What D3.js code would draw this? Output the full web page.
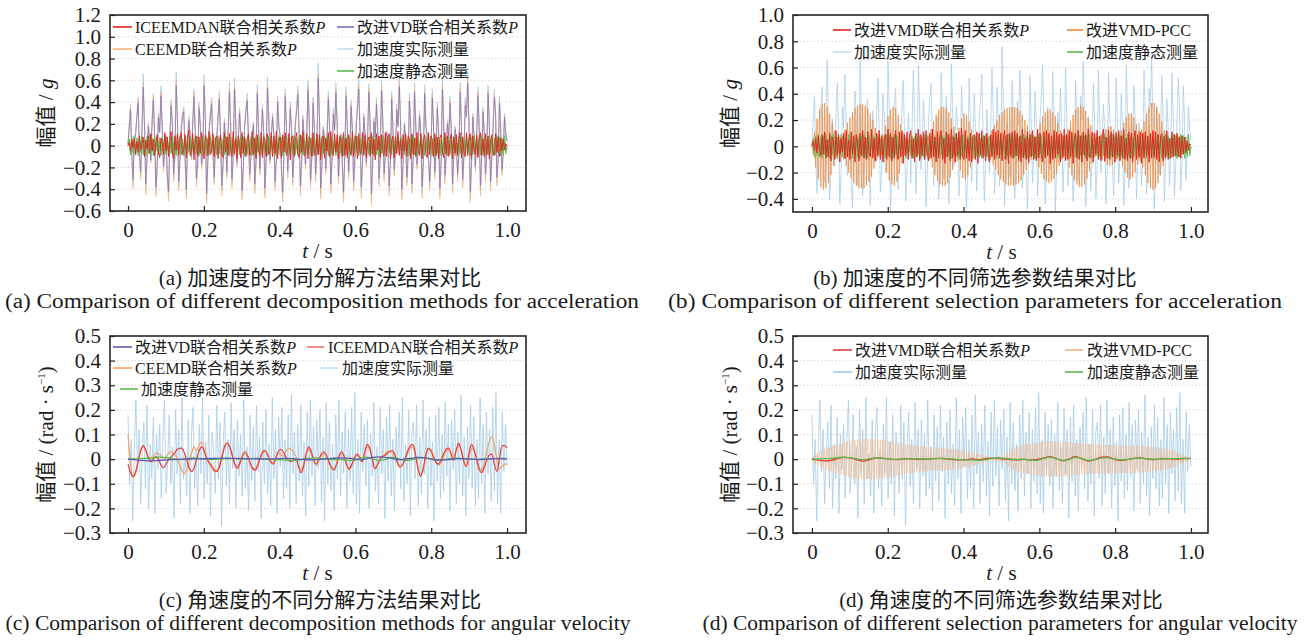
<!DOCTYPE html>
<html>
<head>
<meta charset="utf-8">
<script src="https://cdn.jsdelivr.net/npm/d3@7"></script>
<style>
    body { margin: 0; background: #fff; }
    svg text { font-family: "Liberation Serif", "Times New Roman", "Noto Sans CJK SC", serif; fill: #1a1a1a; }
</style>
</head>
<body>
<svg id="chart"></svg>
<script>
'use strict';

const WIDTH = 1312;
const HEIGHT = 640;

// axis ticks
const T_TICKS = [0, 0.2, 0.4, 0.6, 0.8, 1.0];
const ACC_TICKS_A = [-0.6, -0.4, -0.2, 0, 0.2, 0.4, 0.6, 0.8, 1.0, 1.2];
const ACC_TICKS_B = [-0.4, -0.2, 0, 0.2, 0.4, 0.6, 0.8, 1.0];
const ANG_TICKS = [-0.3, -0.2, -0.1, 0, 0.1, 0.2, 0.3, 0.4, 0.5];

// acceleration, measured (shared by a and b), in 0.01 g
const ACC_MEAS = [
    2, 20, 38, -10, -36, 5, 12, 30, 45, -8,
    -28, 15, 66, 20, -41, -12, 21, 8, -15, 25,
    48, 10, -44, -20, 30, 14, 55, 18, -22, -5,
    10, -30, -47, 8, 42, 22, -30, -10, 68, 25,
    -38, -15, 18, 30, 36, -12, -45, 5, 27, 12,
    -12, 20, 52, 15, -35, -18, 40, 22, -20, -8,
    65, 28, -50, -15, 15, 32, 44, -5, -33, 2,
    8, 28, 50, 10, -42, -18, 25, 6, -28, 15,
    58, 20, -36, -10, 62, 25, -18, 5, 35, 12,
    -46, -20, 20, 35, 48, 8, -30, -10, 12, 22,
    -40, -15, 56, 18, -25, 5, 38, 14, -44, -12,
    63, 30, -15, 8, 30, 12, -38, -14, 46, 20,
    10, -22, -48, -10, 52, 20, -27, 4, 40, 16,
    -34, -8, 22, 36, 55, 10, -42, -15, 28, 6,
    -20, 12, 60, 25, -36, -12, 45, 18, -30, -6,
    76, 30, -45, -18, 18, 6, -24, 8, 50, 20,
    -40, -12, 34, 16, 58, 22, -32, -8, 12, -15,
    -48, -10, 54, 20, -28, -5, 42, 15, -38, -12,
    20, 40, 62, 15, -44, -16, 30, 10, -18, 8,
    57, 22, -50, -18, 26, 8, 44, 16, -35, -10,
    60, 25, -30, -8, 14, 5, -42, -15, 50, 18,
    -26, -6, 38, 20, 64, 24, -46, -18, 22, 6,
    -34, -10, 48, 18, -40, -12, 58, 22, -20, 4,
    32, 12, -44, -15, 56, 20, 10, -12, -38, -8,
    52, 20, -28, -6, 40, 14, -45, -16, 62, 25,
    -32, -10, 24, 8, 46, 18, -40, -12, 18, 5,
    -30, -8, 58, 22, -36, -10, 44, 30, 68, 20,
    -48, -16, 30, 10, -22, 6, 54, 20, -42, -12,
    36, 14, -30, -8, 56, 22, -38, -12, 20, 52,
    30, -34, -12, 46, 18, -26, -6, 30, 12, 5
];

// acceleration, static (shared by a and b), in 0.01 g
const ACC_STATIC = [
    0, 6, -8, 8, -7, 9, -8, 7, -9, 8,
    -6, 9, -8, 5, -9, 8, -7, 9, -8, 7,
    -9, 8, -5, 9, -8, 7, -9, 8, -7, 9,
    -8, 6, -9, 8, -7, 9, -8, 7, -9, 8,
    -7, 9, -8, 6, -9, 8, -7, 9, -6, 8,
    -9, 7, -8, 9, -7, 8, -9, 6, -8, 9,
    -7, 8, -9, 7, -8, 9, -6, 8, -9, 7,
    -8, 9, -7, 8, -9, 6, -8, 9, -7, 8,
    -9, 7, -8, 9, -6, 8, -9, 7, -8, 9,
    -7, 8, -9, 6, -8, 9, -7, 8, -9, 7,
    -8, 9, -6, 8, -9, 7, -8, 9, -7, 6,
    -9, 8, -7, 9, -8, 6, -9, 8, -7, 9,
    -8, 7, -9, 8, -6, 9, -8, 7, -9, 8,
    -7, 9, -8, 6, -9, 8, -7, 9, -8, 7,
    -9, 8, -7, 9, -8, 7, -9, 8, -6, 9,
    -8, 7, -9, 8, -7, 9, -6, 8, -9, 7,
    -8, 9, -7, 6, -9, 8, -8, 9, -7, 8,
    -9, 6, -8, 9, -7, 8, -9, 7, -8, 9,
    -6, 8, -9, 7, -8, 9, -7, 8, -9, 6,
    -8, 9, -7, 8, -9, 7, -8, 6, -9, 8,
    -7, 9, -8, 7, -9, 8, -6, 9, -8, 7,
    -9, 8, -7, 9, -6, 8, -9, 7, -8, 9,
    -8, 6, -9, 8, -7, 9, -8, 7, -9, 8,
    -7, 9, -8, 6, -9, 8, -7, 9, -8, 7,
    -9, 7, -8, 9, -7, 8, -9, 6, -8, 9,
    -7, 8, -9, 7, -8, 9, -6, 8, -9, 7,
    -8, 9, -7, 8, -9, 6, -8, 9, -7, 8,
    -9, 7, -8, 9, -6, 8, -9, 7, -8, 9,
    -7, 8, -9, 6, -8, 9, -7, 8, -9, 7,
    -8, 9, -6, 8, -9, 7, -8, 9, -7, 0
];

// (a) improved VD + P, in 0.01 g
const A_VD = [
    2, 17, 33, -8, -31, 4, 10, 26, 39, -7,
    -24, 13, 54, 17, -35, -10, 18, 7, -13, 21,
    42, 8, -38, -17, 26, 12, 46, 15, -19, -4,
    9, -26, -42, 7, 37, 19, -26, -8, 55, 21,
    -33, -13, 15, 26, 31, -10, -40, 4, 23, 10,
    -10, 17, 45, 13, -30, -15, 34, 19, -17, -7,
    55, 24, -44, -13, 13, 27, 38, -4, -29, 2,
    7, 24, 43, 9, -37, -15, 21, 5, -24, 13,
    49, 17, -31, -8, 52, 21, -15, 4, 30, 10,
    -41, -17, 17, 30, 41, 7, -26, -8, 10, 19,
    -35, -13, 48, 15, -21, 4, 33, 12, -39, -10,
    53, 26, -13, 7, 26, 10, -33, -12, 40, 17,
    9, -19, -43, -8, 45, 17, -23, 3, 34, 14,
    -29, -7, 19, 31, 47, 9, -37, -13, 24, 5,
    -17, 10, 51, 21, -31, -10, 39, 15, -26, -5,
    62, 26, -39, -15, 15, 5, -21, 7, 43, 17,
    -35, -10, 29, 14, 49, 19, -28, -7, 10, -13,
    -43, -8, 46, 17, -24, -4, 36, 13, -33, -10,
    17, 34, 52, 13, -38, -14, 26, 9, -15, 7,
    49, 19, -44, -15, 22, 7, 38, 14, -30, -8,
    51, 21, -26, -7, 12, 4, -37, -13, 43, 15,
    -22, -5, 33, 17, 54, 20, -40, -15, 19, 5,
    -29, -8, 41, 15, -35, -10, 49, 19, -17, 3,
    27, 10, -38, -13, 48, 17, 9, -10, -33, -7,
    44, 17, -24, -5, 34, 12, -39, -14, 52, 21,
    -27, -8, 20, 7, 39, 15, -35, -10, 15, 4,
    -26, -7, 49, 19, -31, -8, 37, 26, 57, 17,
    -43, -14, 26, 8, -19, 5, 46, 17, -37, -10,
    31, 12, -26, -7, 48, 19, -33, -10, 17, 44,
    26, -29, -10, 39, 15, -22, -5, 26, 10, 4
];

// (a) CEEMD + P, in 0.01 g
const A_CEEMD = [
    2, 19, 36, -10, -39, 5, 11, 28, 42, -9,
    -31, 14, 58, 19, -45, -13, 20, 7, -16, 23,
    46, 9, -47, -22, 28, 13, 50, 17, -24, -6,
    9, -33, -51, 7, 40, 21, -33, -11, 60, 23,
    -41, -16, 17, 28, 34, -13, -49, 4, 25, 11,
    -13, 18, 49, 14, -38, -19, 37, 20, -22, -9,
    58, 26, -53, -16, 14, 30, 41, -6, -36, 1,
    7, 26, 46, 9, -46, -20, 23, 5, -30, 14,
    53, 19, -39, -11, 56, 23, -20, 4, 33, 11,
    -50, -22, 18, 33, 44, 7, -33, -11, 11, 20,
    -44, -16, 51, 17, -27, 4, 35, 13, -48, -13,
    57, 28, -17, 7, 28, 11, -41, -15, 43, 19,
    9, -24, -52, -11, 48, 19, -30, 3, 37, 15,
    -37, -9, 20, 33, 51, 9, -46, -16, 26, 5,
    -22, 11, 55, 23, -39, -13, 42, 17, -33, -7,
    66, 28, -49, -20, 17, 5, -26, 7, 46, 19,
    -44, -13, 31, 15, 53, 20, -35, -9, 11, -16,
    -52, -11, 50, 19, -31, -5, 39, 14, -41, -13,
    18, 37, 57, 14, -48, -17, 28, 9, -20, 7,
    53, 20, -54, -20, 24, 7, 41, 15, -38, -11,
    55, 23, -33, -9, 13, 4, -46, -16, 46, 17,
    -28, -7, 35, 19, 59, 22, -50, -20, 20, 5,
    -37, -11, 44, 17, -44, -13, 53, 20, -22, 4,
    29, 11, -48, -16, 52, 19, 9, -13, -41, -9,
    48, 19, -31, -7, 37, 13, -49, -17, 57, 23,
    -35, -11, 22, 7, 42, 17, -44, -13, 17, 5,
    -33, -9, 53, 20, -39, -11, 40, 28, 62, 19,
    -52, -17, 28, 9, -24, 5, 50, 19, -46, -13,
    33, 13, -33, -9, 51, 20, -41, -13, 18, 48,
    28, -37, -13, 42, 17, -28, -7, 28, 11, 4
];

// (a) ICEEMDAN + P, in 0.01 g
const A_ICEE = [
    0, 3, -5, 6, -2, 7, -8, 4, -6, 9,
    -4, 2, 8, -10, 5, -3, 9, -7, 11, -5,
    6, -9, 3, 10, -6, -11, 7, 2, -8, 12,
    -5, 8, -10, 4, 13, -7, -12, 9, -4, 11,
    -9, 6, 12, -8, -3, 10, -11, 7, 14, -9,
    -6, 11, -13, 5, 9, -10, 8, -7, 12, -4,
    -12, 10, 6, -9, 13, -8, -5, 11, -10, 7,
    9, -12, 4, 10, -7, -11, 12, -6, 8, -9,
    11, -5, -10, 13, -8, 6, -12, 9, 3, -11,
    12, -7, 8, -10, 5, 11, -9, -6, 13, -8,
    7, -12, 10, -4, -9, 12, -11, 8, 6, -10,
    11, -8, -5, 12, -10, 9, -7, 13, -12, 4,
    8, -11, 10, -6, 12, -9, -4, 11, -13, 7,
    9, -10, 5, 12, -8, -11, 10, -6, 13, -9,
    -5, 11, -12, 8, 6, -10, 12, -7, -9, 11,
    -8, 10, -13, 6, 9, -11, 7, -5, 12, -10,
    13, -7, -9, 11, -6, 10, -12, 8, 5, -10,
    12, -9, 7, -11, 10, -5, -8, 13, -10, 6,
    9, -12, 11, -7, -6, 12, -9, 10, -11, 5,
    8, -10, 12, -8, 6, -13, 11, -4, 9, -11,
    10, -6, -9, 12, -10, 7, 11, -12, 5, 9,
    -11, 8, -7, 13, -9, 6, -12, 10, -5, 11,
    -10, 9, 6, -12, 11, -8, 7, -10, 12, -6,
    -9, 11, -12, 5, 10, -7, -11, 12, -8, 9,
    6, -10, 11, -9, 8, -12, 7, 10, -6, -11,
    12, -8, 9, -10, 5, 11, -12, 8, -7, 10,
    -9, 6, 12, -11, 8, -6, -10, 12, -9, 7,
    11, -12, 9, -5, -8, 10, -11, 7, 12, -9,
    6, -10, 11, -8, 9, -12, 5, 10, -7, -9,
    11, -6, 8, -10, 7, -5, 6, -4, 2, 0
];

// (b) improved VMD-PCC, in 0.01 g
const B_PCC = [
    2, -6, 11, -16, 21, -25, 28, -31, 32, -33,
    33, -32, 30, -28, 25, -22, 18, -15, 12, -9,
    7, -5, 5, -6, 8, -10, 13, -15, 18, -20,
    22, -24, 26, -28, 29, -30, 31, -32, 32, -32,
    32, -32, 31, -30, 29, -27, 25, -23, 20, -17,
    14, -11, 9, -7, 6, -7, 9, -12, 16, -20,
    23, -26, 28, -29, 30, -30, 29, -27, 24, -21,
    17, -13, 10, -7, 6, -5, 5, -4, 5, -6,
    5, -4, 5, -6, 5, -5, 4, -5, 6, -5,
    6, -7, 8, -10, 13, -16, 19, -22, 24, -26,
    28, -29, 30, -30, 30, -30, 29, -28, 26, -24,
    21, -18, 15, -12, 10, -11, 14, -18, 21, -24,
    25, -25, 24, -22, 19, -16, 13, -10, 8, -6,
    5, -5, 4, -5, 6, -5, 4, -5, 6, -7,
    8, -10, 12, -14, 16, -18, 20, -22, 24, -25,
    26, -27, 28, -29, 29, -30, 30, -30, 30, -30,
    30, -29, 29, -28, 27, -26, 24, -22, 20, -18,
    16, -14, 12, -10, 8, -7, 8, -10, 13, -16,
    18, -21, 23, -25, 26, -27, 28, -28, 28, -27,
    26, -25, 23, -21, 18, -15, 12, -10, 8, -7,
    8, -10, 13, -16, 19, -22, 24, -26, 28, -29,
    30, -31, 31, -31, 30, -29, 27, -25, 22, -19,
    16, -13, 10, -8, 6, -6, 7, -8, 9, -10,
    11, -12, 13, -14, 15, -15, 15, -14, 13, -12,
    11, -10, 9, -10, 12, -15, 18, -20, 22, -24,
    25, -25, 25, -24, 22, -20, 17, -14, 12, -11,
    13, -16, 19, -22, 25, -28, 30, -32, 33, -33,
    33, -32, 30, -28, 25, -22, 19, -15, 12, -9,
    7, -6, 5, -5, 6, -7, 8, -8, 8, -8,
    8, -7, 6, -5, 4, -3, 3, -2, 1, -1
];

// (b) improved VMD + P, in 0.01 g
const B_VMD = [
    0, 4, -3, 6, -5, 8, -2, -7, 9, -6,
    11, -9, 5, -8, 10, -11, 7, 3, -10, 12,
    -7, 9, -12, 6, -4, 10, -9, 12, -8, 5,
    -10, 11, -6, 8, -12, 9, 4, -11, 10, -7,
    12, -9, 7, -10, 11, -5, -8, 13, -9, 6,
    -11, 10, -7, 12, -10, 8, -12, 6, 9, -10,
    13, -8, 10, -11, 7, -9, 12, -6, -10, 11,
    -8, 12, -13, 9, -7, 11, -10, 8, 12, -9,
    6, -12, 10, -8, 13, -11, 9, -7, 11, -10,
    12, -6, -11, 10, -9, 13, -8, 7, -12, 11,
    -9, 8, 12, -10, 6, -13, 11, -8, 9, -11,
    13, -9, 7, -12, 10, -7, 11, -10, 14, -8,
    -10, 12, -9, 6, -11, 10, -12, 8, 9, -10,
    11, -13, 10, -7, 12, -9, 8, -11, 10, -6,
    -12, 9, -8, 13, -10, 11, -7, 12, -9, 10,
    -11, 7, 12, -10, 9, -13, 10, -8, 11, -9,
    12, -7, 10, -11, 8, -12, 13, -9, 6, -10,
    11, -12, 9, -8, 12, -10, 7, -11, 13, -9,
    10, -8, -12, 11, -9, 12, -7, 10, -13, 8,
    -10, 12, -9, 11, -6, 9, -12, 10, -8, 13,
    -11, 9, -10, 12, -8, 11, -13, 7, 10, -9,
    12, -10, 8, -12, 11, -7, 9, -11, 13, -8,
    -9, 11, -12, 10, -6, 12, -10, 8, -11, 9,
    13, -11, 7, -9, 12, -10, 11, -8, 9, -12,
    10, -7, 12, -11, 8, -9, 13, -10, 6, -11,
    11, -9, 10, -12, 7, 12, -10, 9, -8, 11,
    -13, 10, -9, 11, -7, 8, -12, 10, -9, 12,
    -8, 11, -10, 9, -12, 7, 10, -11, 8, -9,
    12, -10, 6, -9, 11, -8, 9, -7, 10, -8,
    7, -9, 8, -6, 7, -5, 4, -3, 2, 1
];

// angular velocity, measured (shared by c and d), in 0.01 rad/s
const ANG_MEAS = [
    18, -10, 8, -25, 5, 24, -5, 12, -18, 3,
    15, -12, 22, -20, 6, -8, 17, -22, 10, -4,
    14, -16, 8, 24, -14, -2, 18, -10, 5, -24,
    20, -6, 12, -18, 25, -8, 2, -15, 16, -22,
    9, 21, -12, 4, -19, 14, -6, 25, -16, 7,
    -10, 18, -23, 11, 3, -14, 22, -8, 15, -27,
    6, 19, -11, 8, -18, 23, -4, 12, -20, 16,
    -7, 10, -15, 24, -12, 5, -21, 18, -9, 13,
    -17, 22, -5, 9, -24, 15, -10, 20, -14, 6,
    -19, 25, -8, 12, -22, 17, -3, 21, -16, 8,
    -12, 18, -20, 26, -6, 11, -18, 14, -9, 22,
    -15, 7, -23, 19, -11, 24, -7, 13, -19, 16,
    -4, 20, -17, 9, -25, 23, -10, 15, -13, 6,
    -21, 18, -8, 24, -15, 11, -6, 19, -20, 12,
    -9, 21, -14, 27, -18, 8, -22, 19, -5, 14,
    -11, 16, -20, 10, -7, 23, -13, 5, -18, 21,
    -6, 12, -24, 17, -9, 22, -15, 8, -21, 13,
    -3, 19, -12, 25, -17, 6, -10, 20, -23, 11,
    15, -8, 22, -19, 9, -14, 24, -6, 12, -20,
    17, -11, 7, -25, 18, -9, 21, -16, 10, -13,
    23, -7, 14, -21, 16, -4, 20, -18, 11, -10,
    26, -15, 9, -23, 13, -8, 22, -12, 17, -19,
    8, -16, 25, -10, 14, -22, 19, -6, 12, -17,
    21, -13, 27, -18, 8, -22, 19, -5, 14, -3
];

// angular velocity, static (shared by c and d), rad/s
const ANG_STATIC = [
    0, .001, .002, .003, .006, .008, .006, .001, -.002, .002,
    .005, .003, 0, -.001, 0, .001, .002, .001, 0, .002,
    .003, .002, 0, -.002, -.003, -.004, -.005, -.002, .003, .005,
    .003, 0, -.002, -.001, -.004, -.005, .002, .008, .002, -.005,
    -.002, .007, .003, -.005, -.003, .004, .006, .001, -.003, -.002,
    .002, .004, .002, 0, -.001, .001, .002, .002, .003, .003
];

// (c) ICEEMDAN + P, rad/s
const C_ICEE = [
    -.02, -.055, -.07, -.05, -.008, .035, .055, .035, .005, -.01,
    0, .01, 0, -.025, -.035, -.02, 0, .01, .02, .035,
    .043, .045, .03, 0, -.035, -.05, -.035, 0, .035, .05,
    .03, 0, -.015, -.03, -.045, -.05, -.03, .01, .05, .065,
    .05, .015, -.02, -.035, -.015, .015, .03, .015, -.015, -.04,
    -.045, -.025, .005, .03, .035, .015, -.01, -.02, 0, .03,
    .04, .03, .01, -.005, -.01, -.005, 0, -.03, -.055, -.03,
    .02, .05, .03, -.005, -.02, 0, .02, .03, .015, -.01,
    -.035, -.045, -.02, .015, .03, .01, -.025, -.04, -.02, .005,
    .02, .01, -.01, .025, .06, .045, 0, -.04, -.025, 0,
    .01, .015, .025, .033, .035, .015, -.015, -.03, -.02, .005,
    .035, .055, .06, .02, -.04, -.07, -.04, .015, .045, .035,
    .01, -.012, -.02, -.005, .02, .04, .045, .02, -.005, .035,
    .065, .035, -.01, -.03, .02, .06, .04, 0, -.04, -.055,
    -.035, -.005, .015, .02, -.02, -.05, 0, .055, .055, .045
];

// (c) CEEMD + P, rad/s
const C_CEEMD = [
    .10, -.02, -.075, -.06, -.01, .035, .05, .035, .01, -.01,
    .01, .025, .02, .015, -.005, .01, .025, .03, .02, .01,
    -.015, -.04, -.06, -.045, -.01, .025, .05, .035, .06, .07,
    .04, .005, -.02, -.035, -.05, -.045, -.02, .02, .055, .065,
    .045, .01, -.025, -.04, -.02, .01, .025, .01, -.02, -.035,
    -.04, -.02, .01, .025, .03, .015, -.005, -.015, .005, .025,
    .02, .01, .03, .045, .04, .03, .01, -.025, -.045, -.025,
    .015, .04, .025, 0, -.025, -.01, .015, .025, .01, -.015,
    -.035, -.04, -.02, .01, .025, .01, -.02, -.045, -.025, 0,
    .015, .01, -.01, .02, .05, .04, .005, -.035, -.025, -.005,
    .01, .02, .03, .03, .025, .005, -.02, -.035, -.025, 0,
    .025, .045, .05, .015, -.035, -.065, -.045, .005, .04, .04,
    .015, -.01, -.025, -.015, .01, .03, .04, .025, .01, .04,
    .06, .035, -.005, -.03, 0, .045, .035, .005, -.03, -.045,
    -.02, .03, .07, .09, .06, 0, -.04, -.03, -.02, -.02
];

// (c) improved VD + P, rad/s
const C_VD = [
    0, -.004, -.007, -.006, -.003, -.001, 0, .001, .002, .003,
    .004, .003, .002, .001, 0, .001, .003, .002, -.001, -.003,
    0, .003, .005, .002, -.003, .006, .009, .004, -.002, .003,
    .007, .002, -.004, -.002, .002, .001, -.002, 0, .002, 0
];

// (d) improved VMD-PCC, in 0.001 rad/s
const D_PCC = [
    10, -13, 16, -20, 23, -27, 30, -33, 36, -39,
    42, -44, 46, -48, 49, -50, 52, -54, 56, -58,
    60, -61, 62, -64, 65, -67, 69, -70, 72, -73,
    75, -76, 77, -78, 78, -79, 80, -80, 81, -82,
    82, -82, 82, -82, 82, -82, 82, -82, 82, -82,
    81, -81, 80, -80, 79, -79, 78, -77, 76, -76,
    75, -74, 73, -72, 71, -70, 69, -68, 67, -66,
    65, -64, 63, -62, 61, -60, 59, -59, 58, -57,
    56, -55, 55, -54, 53, -53, 52, -51, 51, -50,
    50, -50, 49, -49, 48, -48, 47, -47, 47, -46,
    46, -46, 45, -45, 45, -45, 44, -44, 43, -43,
    42, -42, 41, -40, 40, -39, 38, -38, 37, -36,
    35, -34, 33, -32, 31, -30, 29, -27, 26, -25,
    23, -22, 20, -19, 17, -15, 14, -12, 11, -10,
    9, -8, 8, -8, 8, -9, 9, -9, 10, -10,
    10, -12, 16, -20, 25, -30, 34, -38, 42, -45,
    47, -49, 50, -52, 53, -55, 56, -57, 58, -59,
    60, -61, 61, -62, 63, -64, 65, -66, 67, -68,
    69, -69, 70, -70, 71, -72, 72, -72, 72, -72,
    72, -72, 72, -72, 72, -72, 72, -71, 71, -71,
    70, -70, 69, -69, 68, -68, 67, -67, 66, -65,
    65, -64, 64, -63, 63, -62, 62, -61, 61, -60,
    60, -60, 60, -59, 59, -59, 59, -59, 58, -58,
    58, -58, 58, -58, 58, -58, 58, -58, 58, -58,
    57, -57, 57, -57, 57, -57, 57, -56, 56, -56,
    56, -56, 56, -56, 56, -56, 55, -55, 55, -54,
    54, -54, 53, -53, 52, -52, 51, -51, 50, -50,
    49, -49, 48, -47, 47, -46, 45, -44, 43, -42,
    41, -40, 39, -37, 36, -34, 32, -30, 28, -26,
    24, -21, 19, -16, 14, -12, 10, -8, 6, -5
];

// (d) improved VMD + P, rad/s
const D_VMD = [
    0, -.004, -.007, -.005, .002, .007, .005, -.003, -.008, -.002,
    .005, .004, 0, -.002, 0, .002, 0, -.001, 0, .002,
    .003, .001, -.002, -.003, -.002, .001, -.003, .002, .004, .003,
    0, -.002, -.003, 0, -.004, -.002, .004, .01, .003, -.007,
    0, .01, .002, -.008, -.002, .008, .009, 0, -.005, -.002,
    .003, .005, .001, -.002, 0, .002, .001, 0, .002, .003
];

const RED = "#e6201f";
const PURPLE = "#7d6cb8";
const BLUE = "#a3cae6";
const BLUE_KEY = "#c6def0";
const GREEN = "#5cb94f";

const FONT_TICK = 21;

const PANELS = [
    {
        box: [110, 15, 526, 211], xDomain: [-0.0475, 1.05],
        yDomain: [-0.6, 1.2], yTicks: ACC_TICKS_A, yTitle: "acc", yTitleX: 45,
        series: [
            {data: ACC_MEAS, k: 0.01, color: BLUE, w: 0.9, op: 0.8},
            {data: A_CEEMD, k: 0.01, color: "#f7b27c", w: 0.9, op: 0.75},
            {data: A_VD, k: 0.01, color: PURPLE, w: 0.9, op: 0.75},
            {data: ACC_STATIC, k: 0.01, color: GREEN, w: 1.3, op: 0.95},
            {data: A_ICEE, k: 0.01, color: RED, w: 1, op: 0.9}
        ],
        legend: [
            {text: "ICEEMDAN联合相关系数", it: "P", color: RED, x1: 113, x2: 132, tx: 135, y: 27},
            {text: "改进VD联合相关系数", it: "P", color: PURPLE, x1: 337, x2: 354, tx: 357, y: 27},
            {text: "CEEMD联合相关系数", it: "P", color: "#f7b27c", x1: 113, x2: 132, tx: 135, y: 49},
            {text: "加速度实际测量", it: "", color: BLUE_KEY, x1: 337, x2: 354, tx: 357, y: 49},
            {text: "加速度静态测量", it: "", color: GREEN, x1: 337, x2: 354, tx: 357, y: 71}
        ],
        capCn: "(a)  加速度的不同分解方法结果对比",
        capEn: "(a)  Comparison of different decomposition methods for acceleration",
        capX: 320, capEnX: 322, capEnLen: 634, capY: 285
    },
    {
        box: [793, 15, 1208, 212], xDomain: [-0.05, 1.045],
        yDomain: [-0.5, 1.0], yTicks: ACC_TICKS_B, yTitle: "acc", yTitleX: 729,
        series: [
            {data: ACC_MEAS, k: 0.01, color: BLUE, w: 0.9, op: 0.8},
            {data: B_PCC, k: 0.01, color: "#f0893b", w: 0.9, op: 0.8},
            {data: ACC_STATIC, k: 0.01, color: GREEN, w: 1.3, op: 0.9},
            {data: B_VMD, k: 0.01, color: RED, w: 1, op: 0.92}
        ],
        legend: [
            {text: "改进VMD联合相关系数", it: "P", color: RED, x1: 833, x2: 851, tx: 854, y: 30},
            {text: "改进VMD-PCC", it: "", color: "#f0893b", x1: 1067, x2: 1083, tx: 1086, y: 30},
            {text: "加速度实际测量", it: "", color: BLUE_KEY, x1: 833, x2: 851, tx: 854, y: 52},
            {text: "加速度静态测量", it: "", color: GREEN, x1: 1067, x2: 1083, tx: 1086, y: 52}
        ],
        capCn: "(b)  加速度的不同筛选参数结果对比",
        capEn: "(b)  Comparison of different selection parameters for acceleration",
        capX: 975, capEnX: 975, capEnLen: 614, capY: 285
    },
    {
        box: [110, 336, 526, 533], xDomain: [-0.0475, 1.05],
        yDomain: [-0.3, 0.5], yTicks: ANG_TICKS, yTitle: "ang", yTitleX: 45,
        series: [
            {data: ANG_MEAS, k: 0.01, color: BLUE, w: 0.9, op: 0.85},
            {data: C_CEEMD, k: 1, color: "#f2a365", w: 1.2, op: 1, smooth: true},
            {data: C_ICEE, k: 1, color: "#ee3d3d", w: 1.2, op: 1, smooth: true},
            {data: ANG_STATIC, k: 1, color: GREEN, w: 1.4, op: 1, smooth: true},
            {data: C_VD, k: 1, color: "#6257b0", w: 1.3, op: 1, smooth: true}
        ],
        legend: [
            {text: "改进VD联合相关系数", it: "P", color: "#6257b0", x1: 113, x2: 132, tx: 135, y: 347},
            {text: "ICEEMDAN联合相关系数", it: "P", color: "#f07070", x1: 307, x2: 324, tx: 328, y: 347},
            {text: "CEEMD联合相关系数", it: "P", color: "#f2a365", x1: 113, x2: 132, tx: 135, y: 368},
            {text: "加速度实际测量", it: "", color: BLUE_KEY, x1: 320, x2: 338, tx: 342, y: 368},
            {text: "加速度静态测量", it: "", color: GREEN, x1: 120, x2: 138, tx: 141, y: 389}
        ],
        capCn: "(c)  角速度的不同分解方法结果对比",
        capEn: "(c)  Comparison of different decomposition methods for angular velocity",
        capX: 320, capEnX: 318, capEnLen: 625, capY: 607
    },
    {
        box: [793, 336, 1208, 533], xDomain: [-0.05, 1.045],
        yDomain: [-0.3, 0.5], yTicks: ANG_TICKS, yTitle: "ang", yTitleX: 729,
        series: [
            {data: ANG_MEAS, k: 0.01, color: BLUE, w: 0.9, op: 0.85},
            {data: D_PCC, k: 0.001, color: "#f5b483", w: 0.9, op: 0.6},
            {data: D_VMD, k: 1, color: "#e23a2a", w: 1.3, op: 1, smooth: true},
            {data: ANG_STATIC, k: 1, color: GREEN, w: 1.3, op: 1, smooth: true}
        ],
        legend: [
            {text: "改进VMD联合相关系数", it: "P", color: "#d9463a", x1: 833, x2: 852, tx: 855, y: 350},
            {text: "改进VMD-PCC", it: "", color: "#f5b483", x1: 1065, x2: 1083, tx: 1087, y: 350},
            {text: "加速度实际测量", it: "", color: BLUE, x1: 833, x2: 852, tx: 855, y: 372},
            {text: "加速度静态测量", it: "", color: GREEN, x1: 1065, x2: 1083, tx: 1087, y: 372}
        ],
        capCn: "(d)  角速度的不同筛选参数结果对比",
        capEn: "(d)  Comparison of different selection parameters for angular velocity",
        capX: 1001, capEnX: 1000, capEnLen: 595, capY: 607
    }
];

const svg = d3.select("svg#chart")
              .attr("width", WIDTH)
              .attr("height", HEIGHT);

const fmt = d => d === 0 ? "0" : d3.format(".1f")(d);

class Panel {
    constructor(cfg) {
        this.cfg = cfg;
        this.g = svg.append("g");
        const [l, t, r, b] = cfg.box;
        this.xScale = d3.scaleLinear().domain(cfg.xDomain).range([l, r]);
        this.yScale = d3.scaleLinear().domain(cfg.yDomain).range([b, t]);
        this.drawGrid();
        this.drawSeries();
        this.drawAxes();
        this.drawLegend();
        this.drawTitles();
    }

    drawGrid() {
        const [l, , r] = this.cfg.box;
        this.g.append("g")
              .selectAll("line")
              .data(this.cfg.yTicks)
              .enter()
              .append("line")
              .attr("x1", l)
              .attr("x2", r)
              .attr("y1", d => this.yScale(d))
              .attr("y2", d => this.yScale(d))
              .attr("stroke", "#cfcfcf")
              .attr("stroke-width", 0.8)
              .attr("stroke-dasharray", "1.5,2");
    }

    drawSeries() {
        this.cfg.series.forEach(s => {
            // samples are evenly spaced over 0..1 s
            const n = s.data.length;
            const line = d3.line()
                           .x((d, i) => this.xScale(i / (n - 1)))
                           .y(d => this.yScale(d * s.k));
            if (s.smooth) line.curve(d3.curveMonotoneX);
            this.g.append("path")
                  .datum(s.data)
                  .attr("fill", "none")
                  .attr("stroke", s.color)
                  .attr("stroke-width", s.w)
                  .attr("stroke-opacity", s.op)
                  .attr("stroke-linejoin", "round")
                  .attr("d", line);
        });
    }

    drawAxes() {
        const [l, t, r, b] = this.cfg.box;
        const xAxis = d3.axisBottom(this.xScale)
                        .tickValues(T_TICKS)
                        .tickFormat(fmt)
                        .tickSizeInner(-5)
                        .tickSizeOuter(0)
                        .tickPadding(11);
        const yAxis = d3.axisLeft(this.yScale)
                        .tickValues(this.cfg.yTicks)
                        .tickFormat(fmt)
                        .tickSizeInner(-5)
                        .tickSizeOuter(0)
                        .tickPadding(9);

        const gx = this.g.append("g")
                         .attr("transform", "translate(0," + b + ")")
                         .call(xAxis);
        const gy = this.g.append("g")
                         .attr("transform", "translate(" + l + ",0)")
                         .call(yAxis);
        [gx, gy].forEach(ax => {
            ax.select(".domain").remove();
            ax.attr("font-family", null).attr("font-size", null);
            ax.selectAll(".tick line").attr("stroke", "#222").attr("stroke-width", 1.2);
            ax.selectAll(".tick text").style("font-size", FONT_TICK + "px").attr("fill", "#1a1a1a");
        });

        this.g.append("rect")
              .attr("x", l)
              .attr("y", t)
              .attr("width", r - l)
              .attr("height", b - t)
              .attr("fill", "none")
              .attr("stroke", "#262626")
              .attr("stroke-width", 1.6);
    }

    drawLegend() {
        const items = this.g.append("g")
                            .selectAll("g")
                            .data(this.cfg.legend)
                            .enter()
                            .append("g");
        items.append("line")
             .attr("x1", d => d.x1)
             .attr("x2", d => d.x2)
             .attr("y1", d => d.y)
             .attr("y2", d => d.y)
             .attr("stroke", d => d.color)
             .attr("stroke-width", 1.6);
        const txt = items.append("text")
                         .attr("x", d => d.tx)
                         .attr("y", d => d.y)
                         .attr("dy", "0.36em")
                         .style("font-size", "16px");
        txt.append("tspan").text(d => d.text);
        txt.append("tspan").style("font-style", "italic").text(d => d.it);
    }

    drawTitles() {
        const [l, t, r, b] = this.cfg.box;
        const cx = (this.xScale(0) + this.xScale(1)) / 2;
        const cy = (t + b) / 2;

        const yt = this.g.append("text")
                         .attr("transform", "translate(" + this.cfg.yTitleX + "," + cy + ") rotate(-90)")
                         .attr("text-anchor", "middle")
                         .attr("dy", "0.36em")
                         .style("font-size", "21px");
        if (this.cfg.yTitle === "acc") {
            yt.append("tspan").text("幅值 / ");
            yt.append("tspan").style("font-style", "italic").text("g");
        } else {
            yt.append("tspan").text("幅值 / (rad · s");
            yt.append("tspan").attr("dy", -8).style("font-size", "11px").text("−1");
            yt.append("tspan").attr("dy", 8).text(")");
        }

        const xt = this.g.append("text")
                         .attr("x", cx)
                         .attr("y", b + 47)
                         .attr("text-anchor", "middle")
                         .style("font-size", "21px");
        xt.append("tspan").style("font-style", "italic").text("t");
        xt.append("tspan").text(" / s");

        this.g.append("text")
              .attr("x", this.cfg.capX)
              .attr("y", this.cfg.capY)
              .attr("text-anchor", "middle")
              .style("font-size", "21px")
              .text(this.cfg.capCn);
        this.g.append("text")
              .attr("x", this.cfg.capEnX)
              .attr("y", this.cfg.capY + 23)
              .attr("text-anchor", "middle")
              .attr("textLength", this.cfg.capEnLen)
              .attr("lengthAdjust", "spacingAndGlyphs")
              .style("font-size", "20.5px")
              .text(this.cfg.capEn);
    }
}

PANELS.forEach(cfg => new Panel(cfg));
</script>
</body>
</html>
